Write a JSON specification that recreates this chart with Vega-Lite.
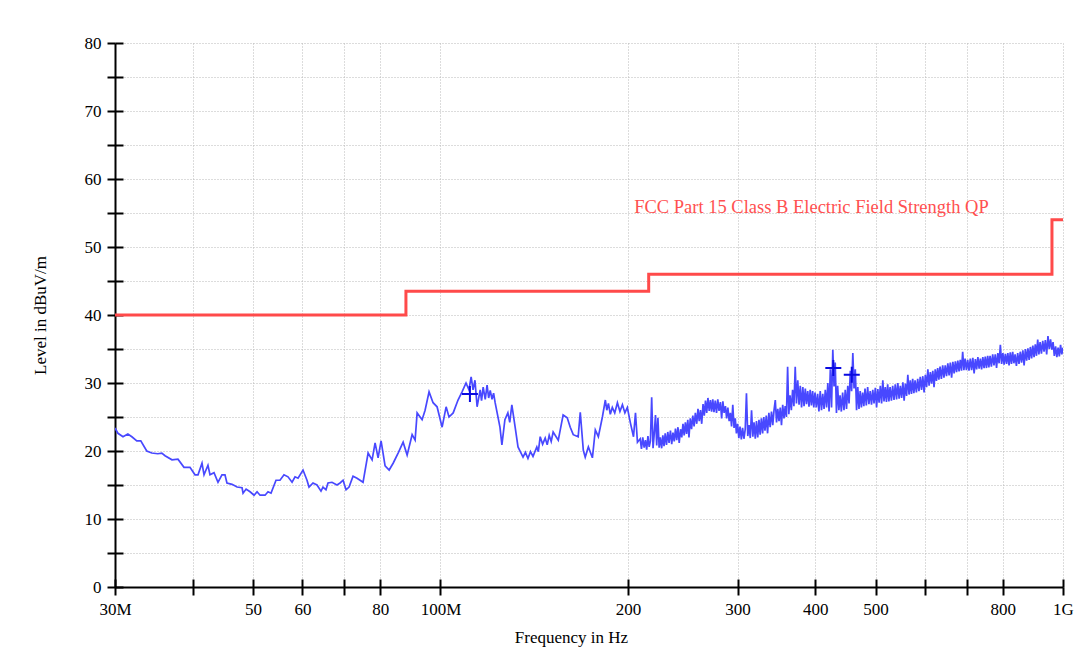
{
  "$schema": "https://vega.github.io/schema/vega-lite/v6.json",
  "width": 948,
  "height": 544,
  "autosize": "none",
  "padding": {"left": 115, "top": 43, "right": 29, "bottom": 68},
  "background": "white",
  "config": {
    "view": {"stroke": null},
    "axis": {
      "labelFont": "Liberation Serif",
      "titleFont": "Liberation Serif",
      "labelFontSize": 17,
      "titleFontSize": 17,
      "titleFontWeight": "normal",
      "labelColor": "black",
      "titleColor": "black",
      "domainColor": "black",
      "tickColor": "black",
      "domainWidth": 2,
      "tickWidth": 2,
      "gridColor": "#b8b8b8",
      "gridDash": [1, 2],
      "gridWidth": 1
    }
  },
  "datasets": {
    "trace": [
      {"f":30.00,"l":23.4},{"f":30.33,"l":22.6},{"f":30.90,"l":22.1},{"f":31.46,"l":22.5},{"f":31.93,"l":22.1},
      {"f":32.52,"l":21.5},{"f":33.00,"l":21.5},{"f":33.74,"l":20.0},{"f":34.37,"l":19.7},{"f":35.14,"l":19.6},
      {"f":35.67,"l":19.7},{"f":36.10,"l":19.3},{"f":37.04,"l":18.7},{"f":37.87,"l":18.8},{"f":38.72,"l":17.6},
      {"f":39.59,"l":17.6},{"f":40.33,"l":16.5},{"f":40.78,"l":16.5},{"f":41.39,"l":18.2},{"f":41.70,"l":16.5},
      {"f":42.31,"l":17.9},{"f":42.63,"l":16.5},{"f":43.27,"l":16.8},{"f":43.91,"l":15.4},{"f":44.56,"l":16.5},
      {"f":45.06,"l":16.5},{"f":45.39,"l":15.3},{"f":46.25,"l":15.1},{"f":47.12,"l":14.7},{"f":48.00,"l":14.6},
      {"f":48.18,"l":13.8},{"f":48.72,"l":14.4},{"f":49.44,"l":14.0},{"f":50.18,"l":13.5},{"f":50.74,"l":14.0},
      {"f":51.30,"l":13.5},{"f":52.26,"l":13.5},{"f":52.84,"l":14.0},{"f":53.43,"l":13.8},{"f":54.42,"l":15.7},
      {"f":55.23,"l":15.7},{"f":56.05,"l":16.5},{"f":56.89,"l":16.2},{"f":57.75,"l":15.4},{"f":58.39,"l":16.2},
      {"f":59.04,"l":16.0},{"f":60.14,"l":17.2},{"f":61.03,"l":15.7},{"f":61.49,"l":14.7},{"f":62.40,"l":15.3},
      {"f":63.33,"l":15.0},{"f":64.27,"l":14.1},{"f":64.75,"l":14.7},{"f":65.47,"l":14.3},{"f":65.96,"l":15.3},
      {"f":66.94,"l":15.4},{"f":68.19,"l":15.0},{"f":68.97,"l":15.3},{"f":69.74,"l":15.7},{"f":70.52,"l":14.3},
      {"f":71.30,"l":14.7},{"f":72.36,"l":16.3},{"f":73.44,"l":16.0},{"f":74.26,"l":15.7},{"f":75.09,"l":15.4},
      {"f":76.51,"l":19.7},{"f":77.65,"l":18.7},{"f":78.51,"l":21.2},{"f":79.39,"l":19.0},{"f":80.27,"l":21.5},
      {"f":81.47,"l":17.8},{"f":82.70,"l":17.2},{"f":83.93,"l":18.2},{"f":85.49,"l":19.7},{"f":87.09,"l":21.3},
      {"f":88.39,"l":19.4},{"f":90.04,"l":22.4},{"f":91.04,"l":21.6},{"f":91.72,"l":25.6},{"f":93.42,"l":24.6},
      {"f":94.46,"l":26.0},{"f":95.86,"l":28.7},{"f":97.29,"l":27.1},{"f":98.74,"l":26.5},{"f":100.6,"l":23.5},
      {"f":102.1,"l":26.5},{"f":103.2,"l":25.0},{"f":104.8,"l":25.6},{"f":106.7,"l":27.5},{"f":108.3,"l":28.7},
      {"f":109.9,"l":30.0},{"f":111.1,"l":29.0},{"f":112.0,"l":30.9},{"f":112.8,"l":29.0},{"f":113.6,"l":30.4},
      {"f":114.5,"l":26.5},{"f":115.8,"l":29.0},{"f":116.4,"l":27.4},{"f":117.1,"l":29.4},{"f":118.0,"l":27.6},{"f":118.8,"l":29.7},{"f":119.5,"l":27.8},{"f":120.2,"l":28.9},
      {"f":121.0,"l":27.6},{"f":121.7,"l":28.5},{"f":122.4,"l":27.1},{"f":124.6,"l":23.5},{"f":125.5,"l":20.9},{"f":126.9,"l":24.6},
      {"f":128.3,"l":25.6},{"f":129.2,"l":24.2},{"f":130.2,"l":26.8},{"f":131.8,"l":23.5},{"f":133.2,"l":20.6},{"f":135.7,"l":19.1},
      {"f":136.9,"l":19.8},{"f":138.2,"l":18.9},{"f":139.5,"l":19.9},{"f":140.8,"l":19.2},{"f":142.8,"l":20.6},{"f":143.6,"l":19.9},{"f":144.6,"l":22.1},{"f":145.9,"l":21.0},{"f":147.3,"l":21.9},
      {"f":148.4,"l":20.9},{"f":149.5,"l":22.3},{"f":150.6,"l":21.4},{"f":151.7,"l":22.8},{"f":154.6,"l":21.6},{"f":157.4,"l":25.3},{"f":159.8,"l":24.9},
      {"f":161.6,"l":23.5},{"f":163.4,"l":22.4},{"f":166.4,"l":22.1},{"f":167.7,"l":25.7},{"f":169.6,"l":20.1},
      {"f":170.8,"l":19.1},{"f":172.8,"l":20.6},{"f":175.4,"l":19.0},{"f":177.3,"l":23.1},{"f":179.3,"l":22.1},
      {"f":182.0,"l":25.0},{"f":184.0,"l":27.5},{"f":185.0,"l":26.0},{"f":186.1,"l":27.0},{"f":187.4,"l":25.4},{"f":188.8,"l":26.4},{"f":190.5,"l":25.6},{"f":192.4,"l":27.1},
      {"f":194.2,"l":25.8},{"f":196.0,"l":26.8},{"f":197.8,"l":25.6},{"f":199.6,"l":26.4},{"f":201.9,"l":24.1},{"f":204.2,"l":22.1},{"f":205.7,"l":25.6},
      {"f":207.2,"l":21.3},

      {"f":209.3,"l":21.8},{"f":210.3,"l":20.3},{"f":211.3,"l":22.0},{"f":212.4,"l":20.5},{"f":213.4,"l":21.6},
      {"f":214.4,"l":20.2},{"f":215.4,"l":22.2},{"f":216.4,"l":20.6},{"f":217.4,"l":21.5},{"f":218.4,"l":27.9},
      {"f":219.5,"l":20.4},{"f":220.5,"l":22.6},{"f":221.5,"l":25.3},{"f":222.5,"l":20.8},{"f":223.5,"l":24.9},
      {"f":224.5,"l":20.5},{"f":225.5,"l":22.0},{"f":226.6,"l":20.4},{"f":227.6,"l":22.3},{"f":228.6,"l":20.7},

      {"f":229.6,"l":22.6},{"f":230.7,"l":20.9},{"f":231.8,"l":22.8},{"f":232.9,"l":21.2},{"f":234.1,"l":23.0},
      {"f":235.2,"l":21.0},{"f":236.3,"l":22.7},{"f":237.4,"l":21.4},{"f":238.5,"l":23.3},{"f":239.6,"l":21.6},
      {"f":240.7,"l":23.5},{"f":241.8,"l":21.2},{"f":243.0,"l":23.2},{"f":244.1,"l":22.0},{"f":245.2,"l":24.0},
      {"f":246.3,"l":22.3},{"f":247.4,"l":24.2},{"f":248.5,"l":22.5},{"f":249.6,"l":24.6},{"f":250.7,"l":22.0},

      {"f":251.9,"l":24.8},{"f":253.1,"l":23.2},{"f":254.3,"l":25.2},{"f":255.5,"l":23.6},{"f":256.7,"l":25.6},
      {"f":258.0,"l":24.0},{"f":259.2,"l":26.2},{"f":260.4,"l":24.4},{"f":261.6,"l":26.0},{"f":262.8,"l":24.0},
      {"f":264.1,"l":26.9},{"f":265.3,"l":25.2},{"f":266.5,"l":27.4},{"f":267.7,"l":25.6},{"f":268.9,"l":27.8},
      {"f":270.2,"l":25.9},{"f":271.4,"l":27.5},{"f":272.6,"l":25.8},{"f":273.8,"l":27.6},{"f":275.0,"l":25.7},

      {"f":276.3,"l":27.4},{"f":277.6,"l":25.6},{"f":278.9,"l":27.6},{"f":280.2,"l":25.9},{"f":281.6,"l":27.2},
      {"f":282.9,"l":24.8},{"f":284.2,"l":27.3},{"f":285.5,"l":25.6},{"f":286.9,"l":26.6},{"f":288.2,"l":24.8},
      {"f":289.5,"l":26.4},{"f":290.9,"l":24.4},{"f":292.2,"l":25.6},{"f":293.5,"l":23.6},{"f":294.8,"l":26.8},
      {"f":296.2,"l":23.4},{"f":297.5,"l":24.8},{"f":298.8,"l":22.6},{"f":300.1,"l":24.0},{"f":301.5,"l":21.9},

      {"f":302.8,"l":23.6},{"f":304.3,"l":21.7},{"f":305.7,"l":23.4},{"f":307.2,"l":21.8},{"f":308.7,"l":23.2},
      {"f":310.1,"l":28.5},{"f":311.6,"l":22.2},{"f":313.1,"l":23.8},{"f":314.5,"l":21.9},{"f":316.0,"l":26.0},
      {"f":317.5,"l":22.1},{"f":318.9,"l":24.2},{"f":320.4,"l":21.8},{"f":321.8,"l":24.4},{"f":323.3,"l":22.0},
      {"f":324.8,"l":24.6},{"f":326.2,"l":22.4},{"f":327.7,"l":24.8},{"f":329.2,"l":22.6},{"f":330.6,"l":25.0},

      {"f":332.1,"l":23.0},{"f":333.7,"l":25.2},{"f":335.3,"l":22.6},{"f":336.9,"l":25.6},{"f":338.5,"l":23.5},
      {"f":340.2,"l":25.8},{"f":341.8,"l":23.8},{"f":343.4,"l":26.0},{"f":345.0,"l":27.5},{"f":346.6,"l":24.2},
      {"f":348.2,"l":26.2},{"f":349.8,"l":24.4},{"f":351.4,"l":26.4},{"f":353.0,"l":23.8},{"f":354.6,"l":26.8},
      {"f":356.3,"l":24.8},{"f":357.9,"l":26.6},{"f":359.5,"l":25.0},{"f":361.1,"l":32.4},{"f":362.7,"l":25.4},

      {"f":364.3,"l":28.2},{"f":366.1,"l":26.0},{"f":367.8,"l":29.0},{"f":369.6,"l":26.6},{"f":371.4,"l":32.4},
      {"f":373.1,"l":27.0},{"f":374.9,"l":30.4},{"f":376.7,"l":26.8},{"f":378.4,"l":29.6},{"f":380.2,"l":26.4},
      {"f":382.0,"l":29.4},{"f":383.7,"l":26.6},{"f":385.5,"l":29.2},{"f":387.2,"l":26.9},{"f":389.0,"l":28.8},
      {"f":390.8,"l":26.5},{"f":392.5,"l":29.0},{"f":394.3,"l":26.7},{"f":396.1,"l":28.8},{"f":397.8,"l":26.4},

      {"f":399.6,"l":28.6},{"f":401.5,"l":26.4},{"f":403.5,"l":28.4},{"f":405.4,"l":25.8},{"f":407.4,"l":28.8},
      {"f":409.3,"l":26.0},{"f":411.2,"l":28.4},{"f":413.2,"l":26.2},{"f":415.1,"l":29.0},{"f":417.1,"l":26.4},
      {"f":419.0,"l":30.0},{"f":420.9,"l":25.8},{"f":422.9,"l":32.0},{"f":424.8,"l":26.4},{"f":426.8,"l":34.9},
      {"f":428.7,"l":29.5},{"f":430.6,"l":33.0},{"f":432.6,"l":25.6},{"f":434.5,"l":29.6},{"f":436.5,"l":26.0},

      {"f":438.4,"l":28.2},{"f":440.5,"l":25.8},{"f":442.6,"l":28.6},{"f":444.8,"l":26.0},{"f":446.9,"l":29.0},
      {"f":449.0,"l":26.2},{"f":451.1,"l":29.6},{"f":453.2,"l":27.0},{"f":455.4,"l":31.8},{"f":457.5,"l":28.8},
      {"f":459.6,"l":34.4},{"f":461.7,"l":29.2},{"f":463.8,"l":32.0},{"f":466.0,"l":26.0},{"f":468.1,"l":29.4},
      {"f":470.2,"l":26.2},{"f":472.3,"l":28.8},{"f":474.4,"l":26.4},{"f":476.6,"l":28.6},{"f":478.7,"l":26.6},

      {"f":480.8,"l":29.2},{"f":483.1,"l":26.7},{"f":485.5,"l":29.4},{"f":487.8,"l":26.9},{"f":490.1,"l":28.8},
      {"f":492.5,"l":26.8},{"f":494.8,"l":29.0},{"f":497.1,"l":27.0},{"f":499.5,"l":29.3},{"f":501.8,"l":26.4},
      {"f":504.1,"l":29.1},{"f":506.5,"l":27.1},{"f":508.8,"l":29.6},{"f":511.2,"l":27.0},{"f":513.5,"l":30.4},
      {"f":515.8,"l":27.3},{"f":518.2,"l":29.4},{"f":520.5,"l":27.2},{"f":522.8,"l":29.8},{"f":525.2,"l":27.3},

      {"f":527.5,"l":29.4},{"f":530.1,"l":27.4},{"f":532.6,"l":29.6},{"f":535.2,"l":27.5},{"f":537.7,"l":29.8},
      {"f":540.3,"l":27.6},{"f":542.8,"l":30.0},{"f":545.4,"l":27.7},{"f":547.9,"l":29.6},{"f":550.5,"l":27.8},
      {"f":553.1,"l":30.1},{"f":555.6,"l":27.4},{"f":558.2,"l":29.9},{"f":560.7,"l":28.1},{"f":563.3,"l":31.2},
      {"f":565.8,"l":28.3},{"f":568.4,"l":30.4},{"f":570.9,"l":28.4},{"f":573.5,"l":30.6},{"f":576.0,"l":28.5},

      {"f":578.6,"l":30.4},{"f":581.4,"l":28.6},{"f":584.2,"l":30.6},{"f":587.0,"l":28.8},{"f":589.8,"l":30.9},
      {"f":592.6,"l":29.0},{"f":595.4,"l":31.0},{"f":598.2,"l":28.6},{"f":601.0,"l":31.2},{"f":603.8,"l":29.4},
      {"f":606.6,"l":32.0},{"f":609.4,"l":29.6},{"f":612.2,"l":31.6},{"f":615.0,"l":29.9},{"f":617.8,"l":31.8},
      {"f":620.6,"l":29.4},{"f":623.4,"l":32.0},{"f":626.2,"l":30.3},{"f":629.0,"l":32.2},{"f":631.8,"l":30.5},

      {"f":634.6,"l":32.4},{"f":637.7,"l":30.6},{"f":640.8,"l":32.6},{"f":643.8,"l":30.8},{"f":646.9,"l":32.6},
      {"f":650.0,"l":31.0},{"f":653.1,"l":32.9},{"f":656.2,"l":31.1},{"f":659.2,"l":33.0},{"f":662.3,"l":30.8},
      {"f":665.4,"l":33.1},{"f":668.5,"l":31.4},{"f":671.6,"l":33.2},{"f":674.6,"l":31.6},{"f":677.7,"l":33.3},
      {"f":680.8,"l":31.7},{"f":683.9,"l":33.4},{"f":687.0,"l":31.8},{"f":690.0,"l":34.6},{"f":693.1,"l":31.9},

      {"f":696.2,"l":33.6},{"f":699.6,"l":31.9},{"f":702.9,"l":33.4},{"f":706.3,"l":31.8},{"f":709.7,"l":33.6},
      {"f":713.1,"l":31.9},{"f":716.4,"l":33.7},{"f":719.8,"l":31.4},{"f":723.2,"l":33.5},{"f":726.5,"l":32.0},
      {"f":729.9,"l":33.8},{"f":733.3,"l":32.1},{"f":736.6,"l":33.6},{"f":740.0,"l":32.0},{"f":743.4,"l":33.8},
      {"f":746.8,"l":32.2},{"f":750.1,"l":33.9},{"f":753.5,"l":32.2},{"f":756.9,"l":34.0},{"f":760.2,"l":32.3},

      {"f":763.6,"l":34.0},{"f":767.3,"l":32.4},{"f":771.0,"l":34.2},{"f":774.7,"l":32.6},{"f":778.4,"l":34.2},
      {"f":782.1,"l":32.2},{"f":785.8,"l":34.4},{"f":789.5,"l":32.9},{"f":793.2,"l":35.6},{"f":796.9,"l":32.8},
      {"f":800.6,"l":34.4},{"f":804.3,"l":32.7},{"f":808.0,"l":34.3},{"f":811.7,"l":32.8},{"f":815.4,"l":34.4},
      {"f":819.1,"l":32.6},{"f":822.8,"l":34.5},{"f":826.5,"l":32.8},{"f":830.2,"l":34.6},{"f":833.9,"l":32.9},

      {"f":837.6,"l":34.2},{"f":841.7,"l":32.5},{"f":845.7,"l":34.4},{"f":849.8,"l":32.8},{"f":853.8,"l":34.6},
      {"f":857.9,"l":33.0},{"f":862.0,"l":34.8},{"f":866.0,"l":32.6},{"f":870.1,"l":35.0},{"f":874.1,"l":33.3},
      {"f":878.2,"l":35.1},{"f":882.3,"l":33.4},{"f":886.3,"l":35.3},{"f":890.4,"l":33.6},{"f":894.4,"l":35.5},
      {"f":898.5,"l":33.8},{"f":902.6,"l":35.7},{"f":906.6,"l":34.0},{"f":910.7,"l":36.4},{"f":914.7,"l":34.2},

      {"f":918.8,"l":36.0},{"f":923.3,"l":34.3},{"f":927.8,"l":36.2},{"f":932.3,"l":34.6},{"f":936.8,"l":36.3},
      {"f":941.4,"l":34.2},{"f":945.9,"l":36.9},{"f":950.4,"l":35.0},{"f":954.9,"l":36.4},{"f":959.4,"l":34.9},
      {"f":963.9,"l":36.0},{"f":968.4,"l":34.0},{"f":973.0,"l":35.4},{"f":977.5,"l":33.8},{"f":982.0,"l":35.2},
      {"f":986.5,"l":33.9},{"f":991.0,"l":35.6},{"f":995.5,"l":34.2},{"f":1000,"l":35.2}
    ],
    "limit": [
      {"f":30,"l":40},{"f":88,"l":43.5},{"f":216,"l":46},{"f":960,"l":54},{"f":1000,"l":54}
    ],
    "label": [
      {"f":204.7,"l":55.9,"text":"FCC Part 15 Class B Electric Field Strength QP"}
    ],
    "markers": [
      {"f":111.5,"l":28.4},{"f":427.6,"l":32.2},{"f":457.8,"l":31.2}
    ]
  },
  "layer": [
    {
      "data": {"name": "trace"},
      "mark": {"type": "line", "color": "#4848ff", "strokeWidth": 1.7, "clip": true},
      "encoding": {
        "x": {
          "field": "f", "type": "quantitative",
          "scale": {"type": "log", "domain": [30, 1000], "nice": false},
          "axis": {
            "values": [30, 40, 50, 60, 70, 80, 100, 200, 300, 400, 500, 600, 700, 800, 1000],
            "labelExpr": "datum.value == 30 ? '30M' : datum.value == 100 ? '100M' : datum.value == 1000 ? '1G' : (datum.value == 40 || datum.value == 70 || datum.value == 600 || datum.value == 700) ? '' : datum.value",
            "labelFlush": false,
            "labelPadding": 6,
            "tickSize": 8,
            "grid": true,
            "title": "Frequency in Hz",
            "titleX": 456,
            "titlePadding": 12
          }
        },
        "y": {
          "field": "l", "type": "quantitative",
          "scale": {"domain": [0, 80], "nice": false},
          "axis": {
            "values": [0, 5, 10, 15, 20, 25, 30, 35, 40, 45, 50, 55, 60, 65, 70, 75, 80],
            "labelExpr": "datum.value % 10 == 0 ? datum.label : ''",
            "labelPadding": 6,
            "tickSize": 8,
            "grid": true,
            "title": "Level in dBuV/m",
            "titlePadding": 35
          }
        }
      }
    },
    {
      "data": {"name": "limit"},
      "mark": {"type": "line", "interpolate": "step-after", "color": "#ff4a4a", "strokeWidth": 3},
      "encoding": {
        "x": {
          "field": "f", "type": "quantitative",
          "scale": {"type": "log", "domain": [30, 1000], "nice": false},
          "axis": {
            "orient": "bottom",
            "values": [30, 40, 50, 60, 70, 80, 100, 200, 300, 400, 500, 600, 700, 800, 1000],
            "offset": -8, "tickSize": 8, "labels": false, "domain": false, "grid": false, "title": null
          }
        },
        "y": {
          "field": "l", "type": "quantitative",
          "scale": {"domain": [0, 80], "nice": false},
          "axis": {
            "orient": "left",
            "values": [0, 5, 10, 15, 20, 25, 30, 35, 40, 45, 50, 55, 60, 65, 70, 75, 80],
            "offset": -8, "tickSize": 8, "labels": false, "domain": false, "grid": false, "title": null
          }
        }
      }
    },
    {
      "data": {"name": "label"},
      "mark": {"type": "text", "align": "left", "baseline": "middle", "font": "Liberation Serif", "fontSize": 18.5, "color": "#ff5050"},
      "encoding": {
        "x": {"field": "f", "type": "quantitative", "axis": null},
        "y": {"field": "l", "type": "quantitative", "axis": null},
        "text": {"field": "text"}
      }
    },
    {
      "data": {"name": "markers"},
      "mark": {"type": "point", "shape": "M-1,0H1M0,-1V1", "size": 256, "filled": false, "stroke": "#0a0ae0", "strokeWidth": 2, "opacity": 1},
      "encoding": {
        "x": {"field": "f", "type": "quantitative", "axis": null},
        "y": {"field": "l", "type": "quantitative", "axis": null}
      }
    }
  ],
  "resolve": {"axis": {"x": "independent", "y": "independent"}}
}
